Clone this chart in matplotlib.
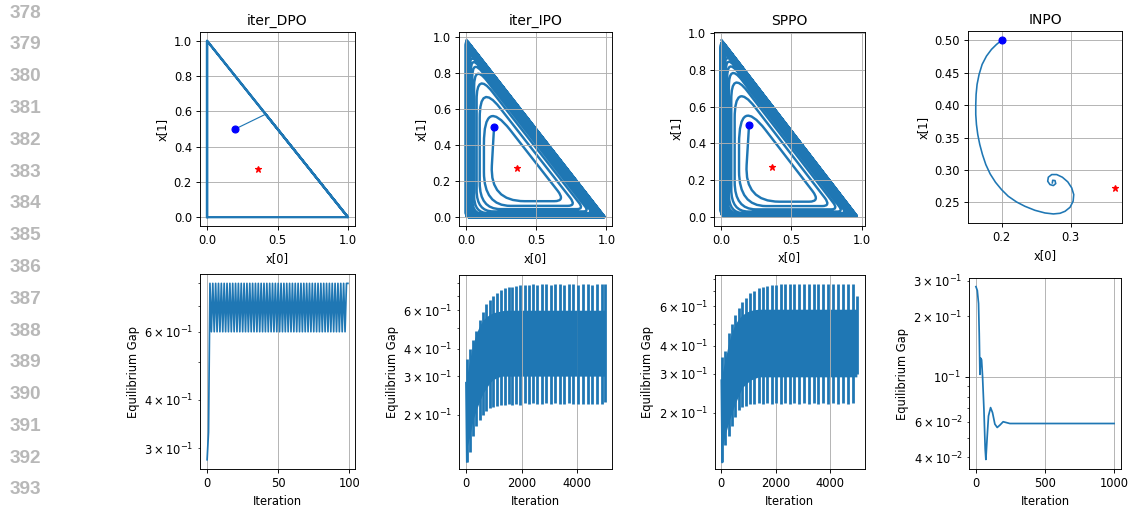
import numpy as np
import matplotlib
matplotlib.use('Agg')
import matplotlib.pyplot as plt
from matplotlib.path import Path
from matplotlib.patches import PathPatch

DPI = 83
W, H = 1129, 508

# ---------------- data ----------------
start_pt = (0.2, 0.5)
nash_pt = (0.3636, 0.2727)

# iter_DPO trajectory: start, then bouncing over the simplex corners
dpo_x = [0.2, 0.416, 1.0, 0.0, 0.0, 1.0, 0.0, 0.0]
dpo_y = [0.5, 0.584, 0.0, 1.0, 0.0, 0.0, 1.0, 0.0]

# iter_IPO spiral: distance of every loop to left edge / bottom edge / hypotenuse
ipo_dl = [0.170, 0.128, 0.098, 0.076, 0.058, 0.045, 0.035, 0.028, 0.023, 0.019,
          0.016, 0.013, 0.011, 0.009, 0.007, 0.006, 0.005, 0.004, 0.003, 0.002,
          0.002, 0.001, 0.001, 0.0, 0.0]
ipo_db = [0.089, 0.063, 0.045, 0.032, 0.023, 0.017, 0.013, 0.010, 0.008, 0.007,
          0.006, 0.005, 0.004, 0.003, 0.003, 0.002, 0.002, 0.002, 0.001, 0.001,
          0.001, 0.0, 0.0, 0.0, 0.0]
ipo_dh = [0.200, 0.150, 0.115, 0.092, 0.076, 0.066, 0.058, 0.052, 0.047, 0.043,
          0.039, 0.036, 0.033, 0.030, 0.027, 0.025, 0.023, 0.021, 0.019, 0.017,
          0.015, 0.014, 0.012, 0.011, 0.010]

# SPPO spiral
sppo_dl = [0.167, 0.129, 0.098, 0.074, 0.057, 0.045, 0.035, 0.028, 0.023, 0.019,
           0.016, 0.013, 0.011, 0.009, 0.007, 0.006, 0.005, 0.004, 0.003, 0.002,
           0.002, 0.001, 0.001, 0.0]
sppo_db = [0.082, 0.058, 0.040, 0.028, 0.020, 0.015, 0.012, 0.010, 0.008, 0.007,
           0.006, 0.005, 0.004, 0.003, 0.003, 0.002, 0.002, 0.001, 0.001, 0.001,
           0.0, 0.0, 0.0, 0.0]
sppo_dh = [0.210, 0.160, 0.127, 0.105, 0.090, 0.080, 0.072, 0.066, 0.061, 0.057,
           0.054, 0.051, 0.048, 0.046, 0.044, 0.042, 0.040, 0.038, 0.037, 0.035,
           0.034, 0.033, 0.032, 0.031]

# INPO trajectory
inpo_x = [0.200, 0.1928, 0.1855, 0.1783, 0.1720, 0.1676, 0.1647, 0.1633, 0.1628,
          0.1628, 0.1638, 0.1657, 0.1686, 0.1725, 0.1773, 0.1836, 0.1913, 0.200,
          0.2097, 0.2217, 0.2338, 0.2483, 0.2628, 0.2749, 0.2845, 0.2918, 0.2990,
          0.3034, 0.3043, 0.3014, 0.2957, 0.2879, 0.2797, 0.2725, 0.2676, 0.2667,
          0.2700, 0.2749, 0.2783, 0.2773, 0.2739, 0.2734]
inpo_y = [0.500, 0.4938, 0.4861, 0.4758, 0.4629, 0.4474, 0.4320, 0.4165, 0.4010,
          0.3856, 0.3701, 0.3546, 0.3392, 0.3237, 0.3083, 0.2938, 0.2809, 0.2696,
          0.2593, 0.2505, 0.2438, 0.2376, 0.2335, 0.2320, 0.2330, 0.2361, 0.2423,
          0.2516, 0.2619, 0.2722, 0.2815, 0.2887, 0.2928, 0.2928, 0.2887, 0.2825,
          0.2773, 0.2758, 0.2789, 0.2835, 0.2840, 0.2799]

# equilibrium gap, iter_DPO (one value per iteration)
dpo_gap = [0.28, 0.33] + [0.80, 0.60] * 48 + [0.80, 0.80]

# equilibrium gap, iter_IPO: per oscillation cycle
ipo_start = 0.28
ipo_cyc = [30, 140, 255, 370, 490, 610, 735, 860, 990, 1120, 1255, 1390, 1530, 1670,
           1815, 1960, 2110, 2260, 2410, 2565, 2720, 2880, 3040, 3200, 3365, 3530,
           3695, 3860, 4030, 4200, 4370, 4540, 4710, 4880, 4990]
ipo_peak = [0.36, 0.40, 0.44, 0.48, 0.54, 0.59, 0.64, 0.67, 0.70, 0.72, 0.74, 0.755,
            0.765, 0.77, 0.775, 0.78, 0.785, 0.785, 0.79, 0.785, 0.79, 0.79, 0.785,
            0.79, 0.79, 0.785, 0.79, 0.79, 0.785, 0.79, 0.79, 0.785, 0.79, 0.79, 0.79]
ipo_trough = [0.122, 0.135, 0.16, 0.177, 0.19, 0.20, 0.208, 0.214, 0.218, 0.22, 0.222,
              0.222, 0.224, 0.222, 0.225, 0.222, 0.226, 0.224, 0.226, 0.225, 0.224,
              0.226, 0.225, 0.226, 0.224, 0.225, 0.226, 0.224, 0.223, 0.225, 0.224,
              0.223, 0.225, 0.224, 0.228]
ipo_hi = [0.30, 0.36, 0.42, 0.47, 0.51, 0.54, 0.56, 0.575, 0.585, 0.59, 0.595] + [0.60] * 24
ipo_lo = [0.14, 0.16, 0.19, 0.21, 0.23, 0.25, 0.265, 0.28, 0.29, 0.295, 0.30] + [0.30] * 24

# equilibrium gap, SPPO: per oscillation cycle
sppo_start = 0.28
sppo_cyc = [30, 145, 265, 385, 510, 640, 775, 915, 1060, 1210, 1365, 1520, 1680, 1840,
            2005, 2170, 2340, 2510, 2680, 2855, 3030, 3205, 3380, 3560, 3740, 3920,
            4100, 4280, 4460, 4640, 4820, 4970]
sppo_peak = [0.355, 0.377, 0.457, 0.50, 0.55, 0.59, 0.626, 0.656, 0.686, 0.706, 0.726,
             0.736, 0.743, 0.748, 0.752, 0.755, 0.755, 0.758, 0.755, 0.758, 0.755,
             0.758, 0.758, 0.755, 0.758, 0.755, 0.758, 0.755, 0.758, 0.755, 0.758, 0.67]
sppo_trough = [0.12, 0.144, 0.158, 0.175, 0.191, 0.205, 0.212, 0.215, 0.22, 0.22, 0.221,
               0.22, 0.222, 0.22, 0.221, 0.22, 0.222, 0.22, 0.221, 0.22, 0.222, 0.22,
               0.221, 0.22, 0.222, 0.22, 0.221, 0.22, 0.222, 0.22, 0.221, 0.30]
sppo_hi = [0.30, 0.35, 0.41, 0.46, 0.50, 0.53, 0.55, 0.565, 0.575, 0.58] + [0.583] * 22
sppo_lo = [0.14, 0.16, 0.18, 0.20, 0.22, 0.24, 0.26, 0.27, 0.28, 0.285] + [0.29] * 22

# equilibrium gap, INPO
inpo_it = [0, 10, 19, 24, 29, 34, 41, 48, 58, 67, 72, 82, 91, 106, 120, 137, 154, 173,
           197, 221, 245, 999]
inpo_gap = [0.28, 0.268, 0.231, 0.164, 0.103, 0.124, 0.1215, 0.1007, 0.069, 0.044,
            0.039, 0.0512, 0.0641, 0.0705, 0.0666, 0.0584, 0.0562, 0.0577, 0.060,
            0.0594, 0.0588, 0.0588]

titles = ['iter_DPO', 'iter_IPO', 'SPPO', 'INPO']


def spiral_path(dl, db, dh, start):
    # rounded-triangle loops, one per entry, joined into one spiral
    n = len(dl)
    corners = []
    for k in range(n):
        nxt = dl[min(k + 1, n - 1)]
        corners.append((dl[k], db[k]))
        corners.append((1 - dh[k] - db[k], db[k]))
        corners.append((nxt, 1 - dh[k] - nxt))
    pts = [np.array(start, float)] + [np.array(c, float) for c in corners]
    verts = [pts[0]]
    codes = [Path.MOVETO]
    round_fac = [1.5, 0.5, 1.6]
    for i in range(1, len(pts) - 1):
        p, a, b = pts[i], pts[i - 1], pts[i + 1]
        k = (i - 1) // 3
        r = (1.0 * (dl[k] + db[k] + dh[k]) / 3 + 0.012) * round_fac[(i - 1) % 3]
        la, lb = np.linalg.norm(a - p), np.linalg.norm(b - p)
        ra, rb = min(r, 0.48 * la), min(r, 0.48 * lb)
        verts += [p + ra * (a - p) / la, p, p + rb * (b - p) / lb]
        codes += [Path.LINETO, Path.CURVE3, Path.CURVE3]
    verts.append(pts[-1])
    codes.append(Path.LINETO)
    return Path(verts, codes)


fig = plt.figure(figsize=(W / DPI, H / DPI), dpi=DPI)


def box(l, t, r, b):
    return [l / W, 1 - b / H, (r - l) / W, (b - t) / H]


# line numbers of the page
for i, n in enumerate(range(378, 394)):
    fig.text(25 / W, 1 - (13 + 31.8 * i) / H, str(n), ha='center', va='center',
             fontsize=16.5, color='#b8b8b8', weight='bold', family='Liberation Sans')

top_boxes = [box(200, 32, 355, 226), box(459, 32, 612, 226),
             box(714, 32, 864.5, 225.5), box(968, 31, 1122, 223)]
bot_boxes = [box(200, 274, 355, 469), box(459, 275, 612, 469),
             box(714.5, 275, 864.5, 469), box(969, 278, 1121, 469)]

top = [fig.add_axes(b) for b in top_boxes]
bot = [fig.add_axes(b) for b in bot_boxes]

# ---- top row: trajectories ----
ax = top[0]
ax.plot(dpo_x[:2], dpo_y[:2], color='C0', lw=1)
ax.plot(dpo_x[1:], dpo_y[1:], color='C0', lw=2)
ax.set_xlim(-0.05, 1.05)
ax.set_ylim(-0.05, 1.05)

for ax, (dl, db, dh), lims in [
        (top[1], (ipo_dl, ipo_db, ipo_dh), ((-0.0495, 1.04), (-0.049, 1.03))),
        (top[2], (sppo_dl, sppo_db, sppo_dh), ((-0.0485, 1.0185), (-0.048, 1.008)))]:
    ax.add_patch(PathPatch(spiral_path(dl, db, dh, start_pt), facecolor='none',
                           edgecolor='C0', lw=2.1, joinstyle='round'))
    ax.set_xlim(*lims[0])
    ax.set_ylim(*lims[1])

ax = top[3]
ax.plot(inpo_x, inpo_y, color='C0', lw=1.4)
ax.set_xlim(0.1516, 0.374)
ax.set_ylim(0.218, 0.5145)
ax.set_xticks([0.2, 0.3])
ax.set_yticks([0.25, 0.30, 0.35, 0.40, 0.45, 0.50])

for i, ax in enumerate(top):
    ax.plot(*start_pt, 'o', color='blue', ms=6, zorder=5)
    ax.plot(*nash_pt, '*', color='red', ms=6, zorder=5)
    ax.set_title(titles[i])
    ax.set_xlabel('x[0]')
    ax.set_ylabel('x[1]')
    ax.grid(True)
    if i < 3:
        ax.set_xticks([0.0, 0.5, 1.0])
        ax.set_yticks([0.0, 0.2, 0.4, 0.6, 0.8, 1.0])

# ---- bottom row: equilibrium gap ----
ax = bot[0]
ax.plot(np.arange(len(dpo_gap)), dpo_gap, color='C0')
ax.set_yscale('log')
ax.set_xlim(-5, 104)
ax.set_ylim(0.265, 0.846)
ax.set_xticks([0, 50, 100])

for ax, start, cyc, peak, trough, hi, lo, ylim in [
        (bot[1], ipo_start, ipo_cyc, ipo_peak, ipo_trough, ipo_hi, ipo_lo, (0.113, 0.869)),
        (bot[2], sppo_start, sppo_cyc, sppo_peak, sppo_trough, sppo_hi, sppo_lo, (0.112, 0.83))]:
    ax.plot([0, cyc[0]], [start, trough[0]], color='C0')
    ax.fill_between(cyc, lo, hi, color='C0', lw=0)
    ax.vlines(cyc, trough, peak, color='C0', lw=2.4)
    ax.set_yscale('log')
    ax.set_xlim(-250, 5250)
    ax.set_ylim(*ylim)
    ax.set_xticks([0, 2000, 4000])

ax = bot[3]
ax.plot(inpo_it, inpo_gap, color='C0')
ax.set_yscale('log')
ax.set_xlim(-50, 1049)
ax.set_ylim(0.035, 0.309)
ax.set_xticks([0, 500, 1000])

for ax in bot:
    ax.set_xlabel('Iteration')
    ax.set_ylabel('Equilibrium Gap')
    ax.grid(True)

plt.savefig('out.png', dpi=DPI)
